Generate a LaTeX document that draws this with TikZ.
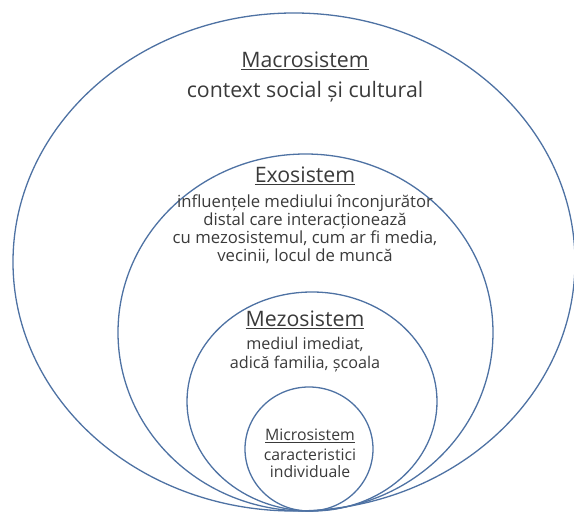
\documentclass[tikz,border=0pt]{standalone}
\usepackage{fontspec}
\setmainfont{Open Sans}
\usetikzlibrary{positioning}
\definecolor{ringblue}{RGB}{78,114,163}
\definecolor{txtgray}{RGB}{58,58,58}

\begin{document}
\begin{tikzpicture}[x=1pt, y=-1pt,
    ring/.style={draw=ringblue, line width=1.3pt},
    title/.style={text=txtgray, inner sep=0pt, anchor=base, font=\fontsize{21.3}{24}\selectfont},
    body/.style={text=txtgray, inner sep=0pt, anchor=base, align=center, font=\fontsize{16.7}{18}\selectfont}]
    \useasboundingbox (0,0) rectangle (574,513);

    % nested systems, all touching at the bottom
    \draw[ring] (294,262) ellipse [x radius=281pt, y radius=249pt];
    \draw[ring] (305.5,332.5) ellipse [x radius=187.5pt, y radius=178.5pt];
    \draw[ring] (312,401.5) ellipse [x radius=125pt, y radius=109.5pt];
    \draw[ring] (309,449) ellipse [x radius=64pt, y radius=62pt];

    \node[title] (macrotitle) at (305,68) {\underline{Macrosistem}};
    \node[title] (macrotext) at (305,98) {context social și cultural};

    \node[title] (exotitle) at (305,183) {\underline{Exosistem}};
    % base of a multi-line node = base of its last line
    \node[body] (exotext) at (305,262) {influențele mediului înconjurător\\distal care interacționează\\cu mezosistemul, cum ar fi media,\\vecinii, locul de muncă};

    \node[title] (mezotitle) at (305,327) {\underline{Mezosistem}};
    \node[body, font=\fontsize{16.2}{19}\selectfont] (mezotext) at (305,369) {mediul imediat,\\adică familia, școala};

    \node[title, font=\fontsize{15.8}{17}\selectfont] (microtitle) at (310,441) {\underline{Microsistem}};
    \node[body, font=\fontsize{15.8}{17}\selectfont] (microtext) at (310,478) {caracteristici\\individuale};
\end{tikzpicture}
\end{document}
